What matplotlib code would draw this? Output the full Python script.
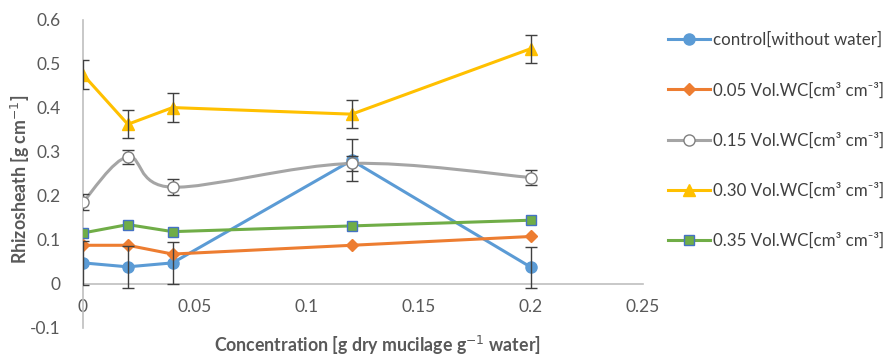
import numpy as np
import matplotlib
matplotlib.use("Agg")
import matplotlib.pyplot as plt
from matplotlib.path import Path
from matplotlib.patches import PathPatch
from matplotlib.lines import Line2D

plt.rcParams['font.family'] = ['Lato', 'DejaVu Sans']

# data
conc = [0, 0.02, 0.04, 0.12, 0.2]
control = [0.048, 0.039, 0.048, 0.281, 0.038]
control_err = [0.05, 0.047, 0.048, 0.048, 0.047]
wc005 = [0.088, 0.088, 0.068, 0.088, 0.108]
wc015 = [0.186, 0.289, 0.22, 0.274, 0.242]
wc015_err = [0.018, 0.016, 0.018, 0.018, 0.018]
wc030 = [0.476, 0.363, 0.401, 0.386, 0.535]
wc030_err = [0.032, 0.032, 0.032, 0.032, 0.032]
wc035 = [0.116, 0.135, 0.119, 0.132, 0.145]

labels = ['control[without water]',
          '0.05 Vol.WC[cm³ cm⁻³]',
          '0.15 Vol.WC[cm³ cm⁻³]',
          '0.30 Vol.WC[cm³ cm⁻³]',
          '0.35 Vol.WC[cm³ cm⁻³]']

blue = '#5B9BD5'
orange = '#ED7D31'
grey = '#A5A5A5'
yellow = '#FFC000'
green = '#70AD47'
txt = '#595959'
errc = '#404040'


def smooth_path(x, y):
    # excel style smoothed line: bezier segments through the points
    x = np.asarray(x, float)
    y = np.asarray(y, float)
    n = len(x)
    verts = [(x[0], y[0])]
    codes = [Path.MOVETO]
    for i in range(n - 1):
        x0, y0 = (x[i - 1], y[i - 1]) if i > 0 else (x[i], y[i])
        x3, y3 = (x[i + 2], y[i + 2]) if i + 2 < n else (x[i + 1], y[i + 1])
        c1 = (x[i] + (x[i + 1] - x0) / 6, y[i] + (y[i + 1] - y0) / 6)
        c2 = (x[i + 1] - (x3 - x[i]) / 6, y[i + 1] - (y3 - y[i]) / 6)
        verts += [c1, c2, (x[i + 1], y[i + 1])]
        codes += [Path.CURVE4] * 3
    return Path(verts, codes)


fig = plt.figure(figsize=(8.86, 3.55), dpi=100)
ax = fig.add_axes([83 / 886, 27 / 355, 560 / 886, 308 / 355])

ax.errorbar(conc, control, yerr=control_err, fmt='none', ecolor=errc, elinewidth=1, capsize=4, capthick=1, zorder=5)
ax.errorbar(conc, wc015, yerr=wc015_err, fmt='none', ecolor=errc, elinewidth=1, capsize=4, capthick=1, zorder=5)
ax.errorbar(conc, wc030, yerr=wc030_err, fmt='none', ecolor=errc, elinewidth=1, capsize=4, capthick=1, zorder=5)

ax.plot(conc, control, color=blue, lw=2.2, marker='o', ms=8, mfc=blue, mec=blue, zorder=3)
ax.plot(conc, wc005, color=orange, lw=2.2, marker='D', ms=6, mfc=orange, mec=orange, zorder=3)
ax.add_patch(PathPatch(smooth_path(conc, wc015), fill=False, edgecolor=grey, lw=2.2, zorder=3))
ax.plot(conc, wc015, ls='none', marker='o', ms=8, mfc='white', mec='#7F7F7F', mew=1, zorder=6)
ax.plot(conc, wc030, color=yellow, lw=2.2, marker='^', ms=8, mfc=yellow, mec=yellow, zorder=3)
ax.plot(conc, wc035, color=green, lw=2.2, marker='s', ms=6.5, mfc=green, mec='#4472C4', mew=1, zorder=3)

ax.set_xlim(0, 0.25)
ax.set_ylim(-0.1, 0.6)
ax.set_xticks([0, 0.05, 0.1, 0.15, 0.2, 0.25])
ax.set_xticklabels(['0', '0.05', '0.1', '0.15', '0.2', '0.25'])
ax.set_yticks([-0.1, 0, 0.1, 0.2, 0.3, 0.4, 0.5, 0.6])
ax.set_yticklabels(['-0.1', '0', '0.1', '0.2', '0.3', '0.4', '0.5', '0.6'])
ax.tick_params(length=0, labelsize=12.5, colors=txt)
ax.tick_params(axis='x', pad=11)
ax.tick_params(axis='y', pad=16)

ax.spines['top'].set_visible(False)
ax.spines['right'].set_visible(False)
ax.spines['bottom'].set_position(('data', 0))
ax.spines['bottom'].set_color('#BFBFBF')
ax.spines['left'].set_color('#BFBFBF')
ax.spines['bottom'].set_linewidth(1.2)
ax.spines['left'].set_linewidth(1.2)
ax.patch.set_alpha(0)

fig.text(20 / 886, 176 / 355, 'Rhizosheath [g cm$^{-1}$]', rotation=90,
         fontsize=12.8, fontweight='bold', color=txt, ha='center', va='center')
fig.text(377 / 886, 10 / 355, 'Concentration [g dry mucilage g$^{-1}$ water]',
         fontsize=12.8, fontweight='bold', color=txt, ha='center', va='center')

handles = [
    Line2D([], [], color=blue, lw=2.2, marker='o', ms=8, mfc=blue, mec=blue),
    Line2D([], [], color=orange, lw=2.2, marker='D', ms=6, mfc=orange, mec=orange),
    Line2D([], [], color=grey, lw=2.2, marker='o', ms=8, mfc='white', mec='#7F7F7F', mew=1),
    Line2D([], [], color=yellow, lw=2.2, marker='^', ms=8, mfc=yellow, mec=yellow),
    Line2D([], [], color=green, lw=2.2, marker='s', ms=6.5, mfc=green, mec='#4472C4', mew=1),
]
fig.legend(handles, labels, loc='upper left', bbox_to_anchor=(668 / 886, 1 - 32 / 355),
           frameon=False, fontsize=12.2, handlelength=2.45, handletextpad=0.2,
           labelspacing=2.0, labelcolor='#404040', borderaxespad=0, borderpad=0)

fig.savefig('out.png', dpi=100)
